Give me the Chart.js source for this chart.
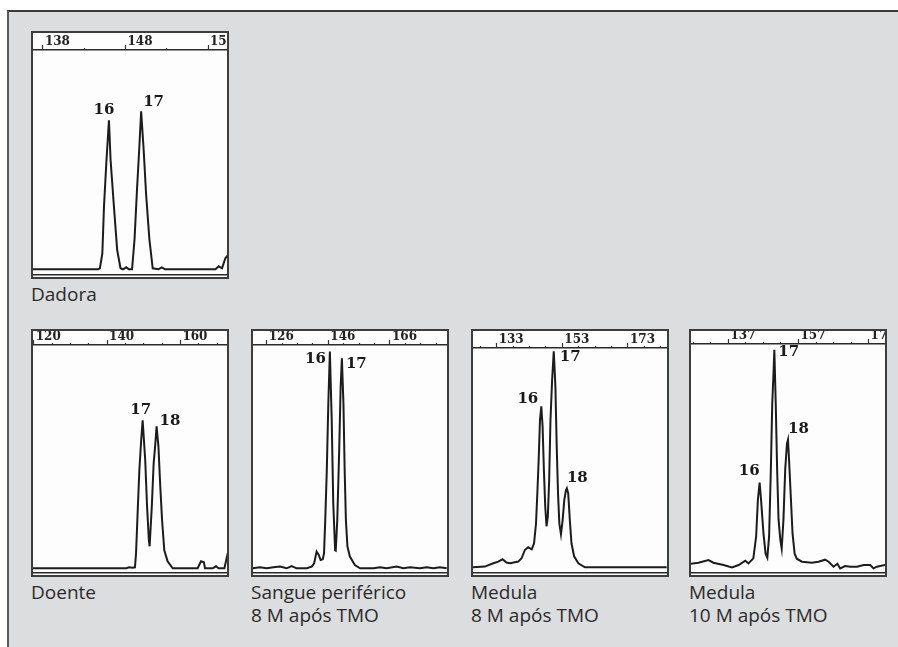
<!DOCTYPE html>
<html>
<head>
<meta charset="utf-8">
<script src="https://cdn.jsdelivr.net/npm/chart.js@4.4.1/dist/chart.umd.min.js"></script>
<style>
  body { margin: 0; width: 898px; height: 647px; background: #fff; position: relative; overflow: hidden; font-family: "Open Sans", sans-serif; }
  .frame { position: absolute; left: 7px; top: 10px; width: 900px; height: 650px; background: #dcdddf; border-top: 2px solid #3a3a3a; border-left: 2px solid #5a5a5a; }
  .panel { position: absolute; width: 198px; height: 248px; box-sizing: border-box; border: 2px solid #3c3c3c; background: #fdfdfd; }
  .panel canvas { display: block; }
  .cap { position: absolute; font-size: 19px; line-height: 23px; color: #2b2b2b; white-space: nowrap; }
</style>
</head>
<body>
<div class="frame"></div>

<div class="panel" style="left:31px;top:31px"><canvas id="p1" width="194" height="244"></canvas></div>
<div class="panel" style="left:31px;top:329px"><canvas id="p2" width="194" height="244"></canvas></div>
<div class="panel" style="left:251px;top:329px"><canvas id="p3" width="194" height="244"></canvas></div>
<div class="panel" style="left:471px;top:329px"><canvas id="p4" width="194" height="244"></canvas></div>
<div class="panel" style="left:689px;top:329px"><canvas id="p5" width="194" height="244"></canvas></div>

<div class="cap" style="left:31px;top:283px">Dadora</div>
<div class="cap" style="left:31px;top:581px">Doente</div>
<div class="cap" style="left:251px;top:581px">Sangue periférico<br>8 M após TMO</div>
<div class="cap" style="left:471px;top:581px">Medula<br>8 M após TMO</div>
<div class="cap" style="left:689px;top:581px">Medula<br>10 M após TMO</div>

<script>
// Dadora
const dadoraX = [136.7, 144.7, 144.9, 145.2, 145.4, 145.7, 146.0, 146.2, 146.6, 147.0, 147.4, 147.7, 148.1, 148.4, 148.8, 149.1, 149.4, 149.7, 149.9, 150.2, 150.5, 150.9, 151.3, 152.0, 152.4, 152.8, 158.9, 159.3, 159.7, 160.1, 160.4];
const dadoraY = [0, 0, 1, 16, 63, 109, 149, 109, 63, 19, 1, 0, 2, 0, 0, 30, 80, 125, 158, 120, 75, 30, 1, 0, 2, 0, 0, 3, 1, 11, 14];
const dadoraTicks = [138, 148, 158];
const dadoraMinor = [143, 153];
const dadoraPeaks = ['16', '17'];
const dadoraPeakX = [146.0, 149.9];
const dadoraPeakY = [149, 158];

// Doente
const doenteX = [119.8, 145.2, 146.0, 146.9, 147.6, 147.9, 148.4, 148.8, 149.3, 149.7, 150.4, 150.9, 151.4, 151.6, 152.2, 152.7, 153.1, 153.5, 154.0, 154.5, 155.0, 155.6, 156.5, 157.9, 164.7, 165.6, 166.4, 166.7, 168.8, 169.7, 170.4, 172.0, 172.9, 173.3];
const doenteY = [0, 0, 1, 0.5, 1, 15, 62, 98, 128, 148, 108, 62, 28, 22, 62, 105, 122, 142, 122, 82, 48, 18, 7, 0, 0, 7, 6, 0, 0, 2, 0, 0, 15, 18];
const doenteTicks = [120, 140, 160];
const doenteMinor = [125, 130, 135, 145, 150, 155, 165, 170];
const doentePeaks = ['17', '18'];
const doentePeakX = [149.7, 153.5];
const doentePeakY = [148, 142];

// Sangue periférico 8 M
const sangueX = [121.2, 123.8, 126.0, 128.2, 130.3, 132.5, 134.1, 135.7, 139.0, 140.6, 141.4, 142.2, 142.9, 143.5, 144.2, 144.6, 145.0, 145.5, 146.0, 146.5, 147.1, 147.6, 148.2, 148.4, 148.9, 149.5, 150.0, 150.4, 150.9, 151.3, 151.7, 152.2, 153.0, 154.6, 156.3, 160.6, 162.8, 164.9, 168.2, 170.3, 172.5, 175.7, 177.9, 180.1, 182.2, 184.4];
const sangueY = [0, 1, 0, 1, 1.7, 0, 2.3, 0, 0, 1.7, 5, 16.7, 13.3, 8.3, 9, 15, 48, 98, 165, 216.7, 148, 65, 18, 17.7, 48, 115, 182, 210, 165, 98, 48, 21.7, 11.7, 3.3, 0, 0, 1, 0, 1.7, 0, 1, 0, 1, 0, 1, 0];
const sangueTicks = [126, 146, 166];
const sangueMinor = [131, 136, 141, 151, 156, 161, 171, 176, 181];
const sanguePeaks = ['16', '17'];
const sanguePeakX = [146.5, 150.4];
const sanguePeakY = [216.7, 210];

// Medula 8 M
const medula8X = [125.5, 129.4, 132.0, 133.5, 134.8, 136.0, 137.1, 139.6, 140.6, 141.6, 142.6, 143.7, 144.4, 145.0, 145.4, 145.8, 146.2, 146.6, 147.0, 147.4, 147.8, 148.2, 148.6, 149.0, 149.4, 149.9, 150.4, 150.9, 151.3, 151.7, 152.1, 152.6, 153.1, 153.6, 154.1, 154.4, 154.8, 155.3, 155.8, 156.6, 157.9, 159.9, 184.8];
const medula8Y = [0, 0.7, 4, 5.7, 8, 4.7, 4, 5.7, 9, 17.3, 20, 18, 24, 44, 74, 107, 147, 161, 141, 97, 61, 41, 51, 87, 147, 187, 216, 181, 121, 74, 44, 33, 47, 67, 77, 79, 74, 47, 24, 11, 4, 0, 0];
const medula8Ticks = [133, 153, 173];
const medula8Minor = [128, 138, 143, 148, 158, 163, 168, 178, 183];
const medula8Peaks = ['16', '17', '18'];
const medula8PeakX = [146.6, 150.4, 154.4];
const medula8PeakY = [161, 216, 79];

// Medula 10 M
const medula10X = [126.0, 128.4, 131.3, 132.7, 135.6, 138.0, 139.9, 141.8, 142.7, 144.1, 144.9, 145.4, 145.9, 146.3, 147.0, 147.6, 148.1, 148.6, 149.1, 149.5, 149.9, 150.1, 150.5, 150.9, 151.3, 151.8, 152.2, 152.7, 153.2, 153.7, 154.0, 154.3, 154.8, 155.3, 155.9, 156.5, 158.0, 160.8, 162.7, 164.6, 165.6, 167.0, 168.1, 168.9, 170.3, 171.8, 173.7, 175.6, 177.5, 178.4, 179.4, 180.3, 181.8];
const medula10Y = [2.7, 4, 6.7, 4, 1.7, -0.7, 1.7, 6, 3.3, 8.3, 30, 67, 84, 67, 33, 13, 9, 30, 97, 163, 197, 217, 163, 97, 47, 27, 18, 47, 97, 123, 127, 107, 70, 33, 13, 8, 5, 4, 5, 7, 5, 0, 3, -1.7, 0.7, 0, 0, 1.7, 1.7, -1.7, 0, 0.7, 1.7];
const medula10Ticks = [137, 157, 177];
const medula10Minor = [127, 132, 142, 147, 152, 162, 167, 172];
const medula10Peaks = ['16', '17', '18'];
const medula10PeakX = [145.9, 150.1, 154.0];
const medula10PeakY = [84, 217, 127];

// geometria de cada painel (header = linha da regua, base = linha de base do traco)
const panels = [
  { id: 'p1', xs: dadoraX, ys: dadoraY, ticks: dadoraTicks, minor: dadoraMinor, min: 136.8, max: 160.3, header: 17, base: 236.3,
    peaks: { names: dadoraPeaks, xs: dadoraPeakX, ys: dadoraPeakY, offsets: [[-5, -3, 'center'], [2, -2, 'left']] } },
  { id: 'p2', xs: doenteX, ys: doenteY, ticks: doenteTicks, minor: doenteMinor, min: 119.8, max: 172.7, header: 14, base: 237.3,
    peaks: { names: doentePeaks, xs: doentePeakX, ys: doentePeakY, offsets: [[-2, -3, 'center'], [3, 2, 'left']] } },
  { id: 'p3', xs: sangueX, ys: sangueY, ticks: sangueTicks, minor: sangueMinor, min: 121.56, max: 184.5, header: 14, base: 237.3,
    peaks: { names: sanguePeaks, xs: sanguePeakX, ys: sanguePeakY, offsets: [[-4, 15, 'right'], [4, 13, 'left']] } },
  { id: 'p4', xs: medula8X, ys: medula8Y, ticks: medula8Ticks, minor: medula8Minor, min: 125.8, max: 184.9, header: 17, base: 236.3,
    peaks: { names: medula8Peaks, xs: medula8PeakX, ys: medula8PeakY, offsets: [[-3, 0, 'right'], [6, 13, 'left'], [0, -3, 'left']] } },
  { id: 'p5', xs: medula10X, ys: medula10Y, ticks: medula10Ticks, minor: medula10Minor, min: 126.3, max: 181.7, header: 13, base: 235.7,
    peaks: { names: medula10Peaks, xs: medula10PeakX, ys: medula10PeakY, offsets: [[0, -4, 'right'], [4, 10, 'left'], [0, -3, 'left']] } }
];

const chartBottom = 242;

// desenha os numeros dos alelos em cima dos picos
const peakLabels = {
  id: 'peakLabels',
  afterDatasetsDraw(chart, args, opts) {
    const { ctx, scales: { x, y } } = chart;
    ctx.save();
    ctx.font = 'bold 15px "DejaVu Serif"';
    ctx.fillStyle = '#1a1a1a';
    ctx.textBaseline = 'bottom';
    opts.names.forEach((name, i) => {
      const [dx, dy, align] = opts.offsets[i];
      ctx.textAlign = align;
      ctx.fillText(name, x.getPixelForValue(opts.xs[i]) + dx, y.getPixelForValue(opts.ys[i]) + dy);
    });
    ctx.restore();
  }
};

panels.forEach(p => {
  new Chart(document.getElementById(p.id), {
    type: 'line',
    data: {
      datasets: [{
        data: p.xs.map((v, i) => ({ x: v, y: p.ys[i] })),
        xAxisID: 'x',
        yAxisID: 'y',
        borderColor: '#1c1c1c',
        borderWidth: 2,
        pointRadius: 0,
        tension: 0,
        fill: false
      }]
    },
    options: {
      responsive: false,
      animation: false,
      devicePixelRatio: 1,
      layout: { padding: 0 },
      plugins: {
        legend: { display: false },
        tooltip: { enabled: false },
        peakLabels: p.peaks
      },
      scales: {
        x: {
          type: 'linear',
          position: 'top',
          min: p.min,
          max: p.max,
          afterBuildTicks: s => {
            s.ticks = [...p.ticks, ...p.minor].sort((a, b) => a - b).map(v => ({ value: v }));
          },
          afterFit: s => { s.height = p.header; s.paddingLeft = 0; s.paddingRight = 0; },
          ticks: {
            autoSkip: false,
            maxRotation: 0,
            minRotation: 0,
            align: 'start',
            labelOffset: 2,
            padding: -2,
            color: '#222',
            font: { family: '"DejaVu Serif"', weight: 'bold', size: 12, lineHeight: 0.9 },
            callback: v => p.ticks.includes(v) ? String(v) : ''
          },
          grid: {
            drawOnChartArea: false,
            tickLength: 5,
            color: '#333',
            tickWidth: 1.2,
            // tracinhos menores nos ticks sem numero
            tickBorderDash: c => p.ticks.includes(c.tick.value) ? [] : [0, 3, 2, 100]
          },
          border: { color: '#2a2a2a', width: 1.5 }
        },
        xb: {
          type: 'linear',
          position: 'bottom',
          min: p.min,
          max: p.max,
          ticks: { display: false },
          grid: { display: false },
          border: { color: '#2a2a2a', width: 1.5 },
          afterFit: s => { s.height = 2; }
        },
        y: { display: false, min: -(chartBottom - p.base), max: p.base - p.header }
      }
    },
    plugins: [peakLabels]
  });
});
</script>
</body>
</html>
